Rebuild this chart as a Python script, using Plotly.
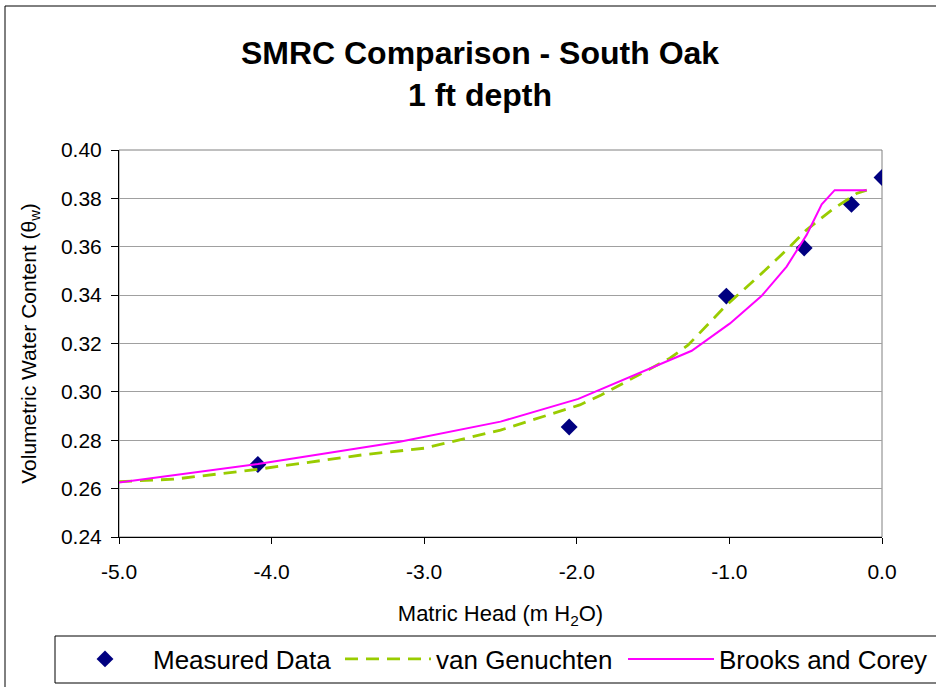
import plotly.graph_objects as go

# Measured data
meas_x = [-4.09, -2.05, -1.02, -0.51, -0.20, 0.0]
meas_y = [0.270, 0.2855, 0.3396, 0.3595, 0.3775, 0.3886]

# van Genuchten fit
vg_x = [-5.0, -4.64, -4.09, -3.4, -3.0, -2.5, -1.98, -1.84, -1.39, -1.27, -1.03, -0.80, -0.625, -0.494, -0.33, -0.167, -0.10]
vg_y = [0.2629, 0.2639, 0.268, 0.274, 0.2767, 0.2842, 0.2946, 0.2987, 0.3139, 0.3194, 0.3352, 0.3483, 0.3587, 0.367, 0.3752, 0.382, 0.3834]

# Brooks and Corey fit
bc_x = [-5.0, -4.09, -3.16, -2.50, -1.99, -1.60, -1.247, -0.996, -0.79, -0.625, -0.494, -0.395, -0.31, -0.10]
bc_y = [0.2625, 0.2702, 0.2794, 0.2877, 0.2971, 0.3077, 0.317, 0.3283, 0.3396, 0.3518, 0.3649, 0.3775, 0.3834, 0.3834]

x_ticks = [-5.0, -4.0, -3.0, -2.0, -1.0, 0.0]
y_ticks = [0.24, 0.26, 0.28, 0.30, 0.32, 0.34, 0.36, 0.38, 0.40]

FONT = "Arial, Liberation Sans, sans-serif"

fig = go.Figure()
fig.add_trace(go.Scatter(x=meas_x, y=meas_y, mode="markers", name="Measured Data",
                         marker=dict(symbol="diamond", size=13, color="#000080")))
fig.add_trace(go.Scatter(x=vg_x, y=vg_y, mode="lines", name="van Genuchten",
                         line=dict(color="#99CC00", width=2.8, dash="13px,8px")))
fig.add_trace(go.Scatter(x=bc_x, y=bc_y, mode="lines", name="Brooks and Corey",
                         line=dict(color="#FF00FF", width=2), legendwidth=212))

L, R, T, B = 119, 882, 150, 537
W, H = 936, 687

def px(x):
    return (x - L) / (R - L)

def py(y):
    return (B - y) / (B - T)

fig.update_layout(
    width=W, height=H,
    margin=dict(l=L, r=W - R, t=T, b=H - B, autoexpand=False),
    paper_bgcolor="white", plot_bgcolor="white",
    font=dict(family=FONT, color="black"),
    title=dict(text="<b>SMRC Comparison - South Oak<br>1 ft depth</b>",
               x=480 / W, xanchor="center", xref="container",
               y=1 - 64 / H, yanchor="top", yref="container",
               font=dict(size=32, family=FONT, color="black")),
    xaxis=dict(range=[-5.0, 0.0], tickvals=x_ticks, ticktext=[f"{v:.1f}" for v in x_ticks],
               showgrid=False, zeroline=False, showline=True, linecolor="black", linewidth=1,
               ticks="outside", ticklen=6, tickcolor="black", tickfont=dict(size=21),
               ticklabelstandoff=10,
               title=dict(text="Matric Head (m H<sub>2</sub>O)", font=dict(size=22), standoff=23)),
    yaxis=dict(range=[0.24, 0.40], tickvals=y_ticks, ticktext=[f"{v:.2f}" for v in y_ticks],
               showgrid=True, gridcolor="#A0A0A0", gridwidth=1, zeroline=False,
               showline=True, linecolor="black", linewidth=1,
               ticks="outside", ticklen=7, tickcolor="black", tickfont=dict(size=21),
               ticklabelstandoff=5,
               title=dict(text="Volumetric Water Content (θ<sub>w</sub>)", font=dict(size=21), standoff=18)),
    legend=dict(orientation="h", x=px(57), xanchor="left", y=py(659), yanchor="middle",
                font=dict(size=26), bgcolor="rgba(0,0,0,0)", itemwidth=86,
                entrywidth=182, entrywidthmode="pixels",
                traceorder="normal"),
    shapes=[
        # plot area border
        dict(type="rect", xref="paper", yref="paper", x0=0, y0=0, x1=1, y1=1,
             line=dict(color="#808080", width=1), layer="below"),
        # chart outer border
        dict(type="rect", xref="paper", yref="paper", x0=px(5), y0=py(692), x1=px(945), y1=py(6),
             line=dict(color="black", width=1)),
        # legend box
        dict(type="rect", xref="paper", yref="paper", x0=px(55), y0=py(683), x1=px(945), y1=py(636),
             line=dict(color="black", width=1)),
    ],
)

fig.write_html("out.html")
